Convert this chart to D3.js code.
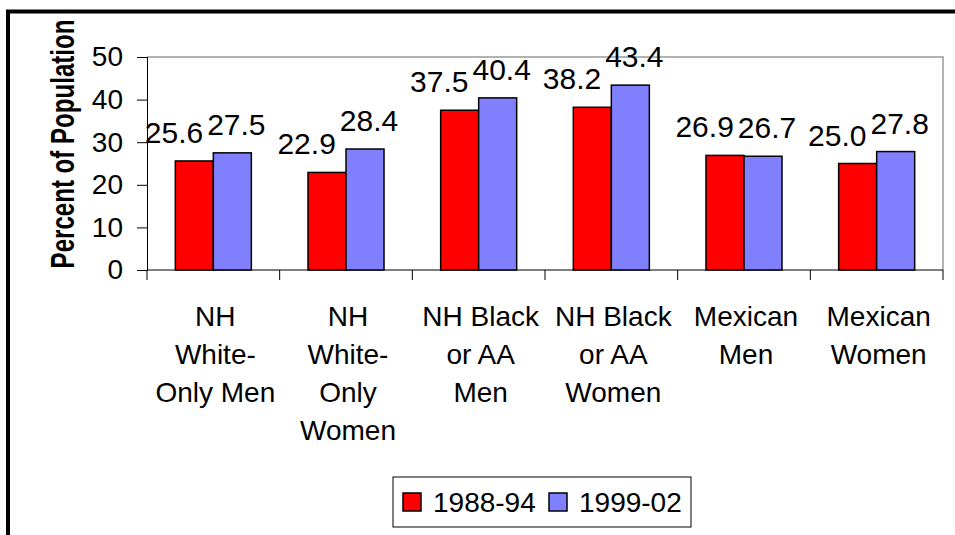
<!DOCTYPE html>
<html>
<head>
<meta charset="utf-8">
<script src="https://cdnjs.cloudflare.com/ajax/libs/d3/7.8.5/d3.min.js"></script>
<style>
  body { margin: 0; background: #fff; }
  svg { display: block; font-family: "Liberation Sans", Arial, sans-serif; }
</style>
</head>
<body>
<div class="container"></div>
<script>
// chart data
var categories = ['NH|White-|Only Men', 'NH|White-|Only|Women', 'NH Black|or AA|Men',
                  'NH Black|or AA|Women', 'Mexican|Men', 'Mexican|Women'];
var seriesNames = ['1988-94', '1999-02'];
var values8894 = [25.6, 22.9, 37.5, 38.2, 26.9, 25.0];
var values9902 = [27.5, 28.4, 40.4, 43.4, 26.7, 27.8];
var yTicks = [0, 10, 20, 30, 40, 50];
var colors = ['#ff0000', '#8080ff'];

var width = 955, height = 535;
var plot = { left: 147, right: 943, top: 57, bottom: 270 };

var svg = d3.select('.container').append('svg')
  .attr('width', width)
  .attr('height', height);

// outer frame, runs off the right and bottom edges
svg.append('path')
  .attr('d', 'M8,' + (height + 10) + 'V11.5H' + (width + 10))
  .attr('fill', 'none')
  .attr('stroke', '#000')
  .attr('stroke-width', 4);

var x0 = d3.scaleBand()
  .domain(categories)
  .range([plot.left, plot.right])
  .paddingInner(0.427)
  .paddingOuter(0.2135);

var x1 = d3.scaleBand()
  .domain(seriesNames)
  .range([0, x0.bandwidth()]);

var y = d3.scaleLinear()
  .domain([0, 50])
  .range([plot.bottom, plot.top]);

// plot area border (top and right in grey)
svg.append('path')
  .attr('d', 'M' + plot.left + ',' + plot.top + 'H' + plot.right + 'V' + plot.bottom)
  .attr('fill', 'none')
  .attr('stroke', '#999')
  .attr('stroke-width', 1.5);

// y axis
var yAxis = d3.axisLeft(y).tickValues(yTicks).tickSize(10).tickPadding(14);
var gy = svg.append('g')
  .attr('transform', 'translate(' + plot.left + ',0)')
  .call(yAxis);
gy.select('.domain').attr('stroke', '#000');
gy.selectAll('.tick line').attr('stroke', '#000');
gy.selectAll('.tick text')
  .attr('font-size', 28)
  .attr('font-family', '"Liberation Sans", Arial, sans-serif')
  .attr('fill', '#000');

// x axis line + category ticks at band edges
var step = x0.step();
var edges = categories.map(function(c) { return x0(c) - step * x0.paddingInner() / 2; });
edges.push(plot.right);

svg.append('line')
  .attr('x1', plot.left).attr('x2', plot.right)
  .attr('y1', y(0)).attr('y2', y(0))
  .attr('stroke', '#000');

svg.selectAll('.xtick').data(edges).enter().append('line')
  .attr('class', 'xtick')
  .attr('x1', function(d) { return d; })
  .attr('x2', function(d) { return d; })
  .attr('y1', y(0))
  .attr('y2', y(0) + 10)
  .attr('stroke', '#000');

// category labels
var catText = svg.selectAll('.cat').data(categories).enter().append('text')
  .attr('class', 'cat')
  .attr('text-anchor', 'middle')
  .attr('font-size', 28)
  .attr('fill', '#000');

catText.each(function(d) {
  var cx = x0(d) + x0.bandwidth() / 2 + 2;
  d3.select(this).selectAll('tspan').data(d.split('|')).enter().append('tspan')
    .attr('x', cx)
    .attr('y', function(t, i) { return 326 + i * 38; })
    .text(function(t) { return t; });
});

// bars
var rows = categories.map(function(c, i) {
  return { cat: c, vals: [values8894[i], values9902[i]] };
});

var groups = svg.selectAll('.grp').data(rows).enter().append('g')
  .attr('class', 'grp')
  .attr('transform', function(d) { return 'translate(' + x0(d.cat) + ',0)'; });

groups.selectAll('rect')
  .data(function(d) { return d.vals.map(function(v, i) { return { s: seriesNames[i], v: v, i: i }; }); })
  .enter().append('rect')
  .attr('x', function(d) { return x1(d.s); })
  .attr('y', function(d) { return y(d.v); })
  .attr('width', x1.bandwidth())
  .attr('height', function(d) { return y(0) - y(d.v); })
  .attr('fill', function(d) { return colors[d.i]; })
  .attr('stroke', '#000')
  .attr('stroke-width', 1.5);

// value labels: second series centred, first series pushed left so they don't collide
groups.each(function(d) {
  var g = d3.select(this);
  var blue = g.append('text')
    .attr('x', x1(seriesNames[1]) + x1.bandwidth() / 2 + 4)
    .attr('y', y(d.vals[1]) - 18)
    .attr('text-anchor', 'middle')
    .attr('font-size', 30)
    .text(d.vals[1].toFixed(1));
  var bw = blue.node().getComputedTextLength();
  var redCenter = x1(seriesNames[0]) + x1.bandwidth() / 2;
  var red = g.append('text')
    .attr('y', y(d.vals[0]) - 18)
    .attr('font-size', 30)
    .text(d.vals[0].toFixed(1));
  var rw = red.node().getComputedTextLength();
  var limit = x1(seriesNames[1]) + x1.bandwidth() / 2 + 4 - bw / 2 - 4;
  var rx = Math.min(redCenter + rw / 2, limit);
  red.attr('x', rx).attr('text-anchor', 'end');
});

// y axis title (tall, narrow glyphs)
svg.append('text')
  .attr('transform', 'translate(74,144) rotate(-90) scale(0.73,1)')
  .attr('text-anchor', 'middle')
  .attr('font-size', 33)
  .attr('font-weight', 'bold')
  .text('Percent of Population');

// legend
var legend = svg.append('g');
legend.append('rect')
  .attr('x', 393).attr('y', 477)
  .attr('width', 298).attr('height', 50)
  .attr('fill', '#fff')
  .attr('stroke', '#000');

var items = legend.selectAll('.item').data(seriesNames).enter().append('g')
  .attr('class', 'item')
  .attr('transform', function(d, i) { return 'translate(' + (403 + i * 146) + ',0)'; });

items.append('rect')
  .attr('x', 0).attr('y', 493)
  .attr('width', 18).attr('height', 18)
  .attr('fill', function(d, i) { return colors[i]; })
  .attr('stroke', '#000')
  .attr('stroke-width', 1.5);

items.append('text')
  .attr('x', 30).attr('y', 512)
  .attr('font-size', 28)
  .text(function(d) { return d; });
</script>
</body>
</html>
